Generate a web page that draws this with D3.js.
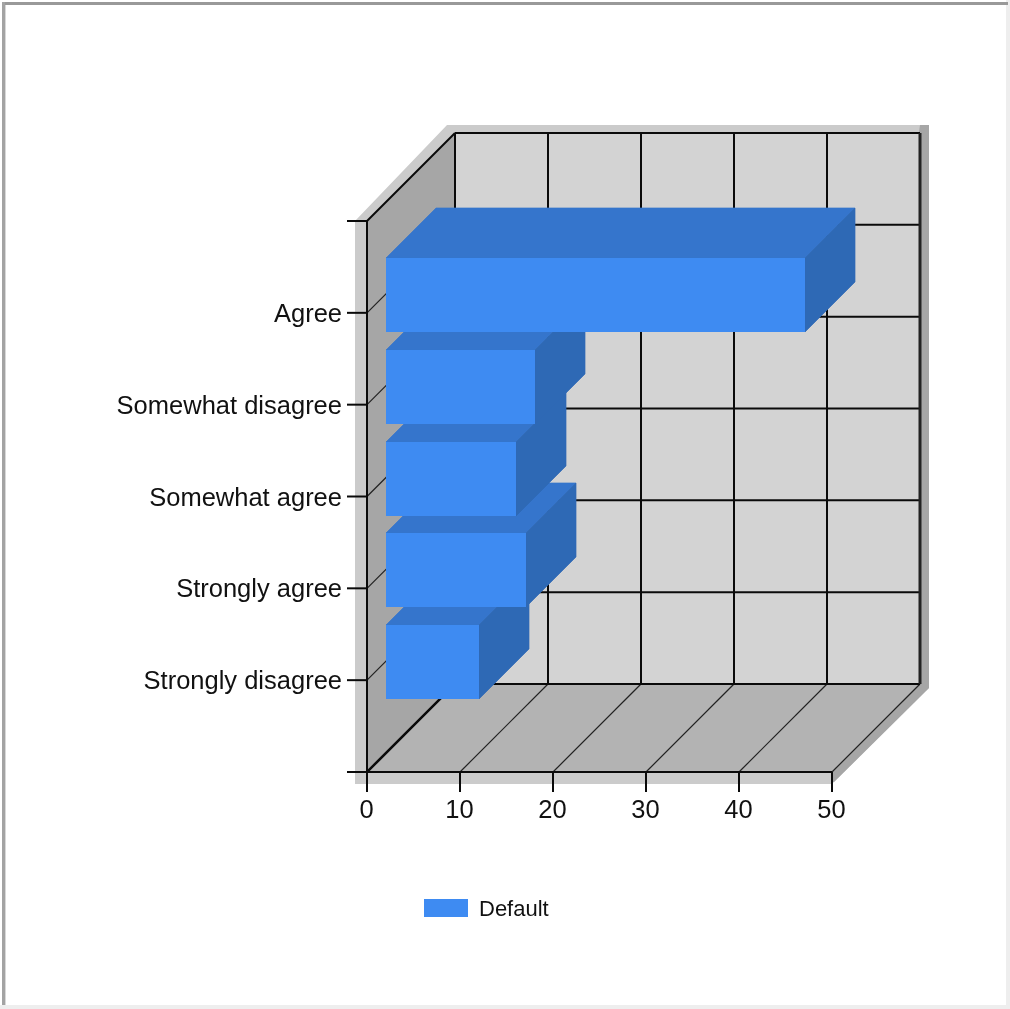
<!DOCTYPE html>
<html><head><meta charset="utf-8">
<script src="https://cdnjs.cloudflare.com/ajax/libs/d3/7.8.5/d3.min.js"></script>
<style>html,body{margin:0;padding:0;background:#fff;overflow:hidden}svg{display:block;filter:blur(0.7px)}text{font-family:"Liberation Sans",Arial,sans-serif;fill:#111}</style>
</head><body><svg id="c" width="1010" height="1009"></svg>
<script>
const categories = ["Agree","Somewhat disagree","Somewhat agree","Strongly agree","Strongly disagree"];
const values = [45,16,14,15,10];
const xTicks = [0,10,20,30,40,50];
const seriesName = "Default";

const W=1010,H=1009, svg=d3.select("#c");
const x=d3.scaleLinear().domain([0,50]).range([367,832]);
const yRange=[221,772];
const y=d3.scalePoint().domain(categories).range(yRange).padding(1);
const DX=88, DY=-88;           // wall depth
const zNear=19, zNearY=18, zDepth=50; // bar depth offsets
const barH=74;
const poly=(pts,fill,seal)=>svg.append("path").attr("d",d3.line()(pts)+"Z").attr("fill",fill).attr("stroke",seal?fill:"none").attr("stroke-width",seal?0.7:0);
const line=(a,b,w,c)=>svg.append("line").attr("x1",a[0]).attr("y1",a[1]).attr("x2",b[0]).attr("y2",b[1]).attr("stroke",c||"#0a0a0a").attr("stroke-width",w);

// frame
svg.append("rect").attr("width",W).attr("height",H).attr("fill","#fff");
svg.append("rect").attr("x",1006).attr("y",0).attr("width",4).attr("height",H).attr("fill","#eeeeee");
svg.append("rect").attr("x",0).attr("y",1005).attr("width",W).attr("height",4).attr("fill","#eeeeee");
svg.append("rect").attr("x",2).attr("y",2).attr("width",1006).attr("height",3).attr("fill","#999999");
svg.append("rect").attr("x",2).attr("y",2).attr("width",3).attr("height",1003).attr("fill","#a3a3a3");
svg.append("rect").attr("x",5).attr("y",5).attr("width",1).attr("height",1000).attr("fill","#d8d8d8");

const x0=x(0),x1=x(50),yT=yRange[0],yB=yRange[1];
// shadows
poly([[355,221],[x0+DX-8,125],[929,125],[929,688],[834,782],[832,784],[355,784]],"#cbcbcb");
poly([[920,125],[929,125],[929,688],[834,782],[832,782],[832,771]],"#a6a6a6");
// walls
poly([[x0+DX,yT+DY],[x1+DX,yT+DY],[x1+DX,yB+DY],[x0+DX,yB+DY]],"#d3d3d3");
poly([[x0,yT],[x0+DX,yT+DY],[x0+DX,yB+DY],[x0,yB]],"#a6a6a6");
poly([[x0,yB],[x0+DX,yB+DY],[x1+DX,yB+DY],[x1,yB]],"#b3b3b3");

// gridlines
xTicks.forEach(t=>{
  const px=x(t);
  line([px+DX,yT+DY],[px+DX,yB+DY],2);
  line([px,yB],[px+DX,yB+DY],t===0?2.4:1.2,t===0?null:"#222");
  line([px,yB],[px,yB+20],2);
});
const yLines=[yRange[0],...categories.map(c=>y(c)),yRange[1]];
yLines.forEach(v=>{
  line([x0+DX,v+DY],[x1+DX,v+DY],2);
  const edge=(v===yT||v===yB);
  line([x0,v],[x0+DX,v+DY],edge?2:1.2,edge?null:"#222");
  line([347,v],[x0,v],2);
});
line([x0,yT],[x0,yB],2);
line([x0,yB],[x1,yB],2);
line([x1+DX,yT+DY],[x1+DX,yB+DY],3,"#222");

// bars, drawn bottom up so the upper bars sit in front
const w=d3.scaleLinear().domain([0,50]).range([0,x1-x0]);
const order=d3.range(categories.length).reverse();
order.forEach(i=>{
  const L=x0+zNear, R=Math.round(L+w(values[i]));
  const T=Math.round(y(categories[i])-zNearY-barH/2), B=T+barH;
  const d=zDepth;
  poly([[L,T],[L+d,T-d],[R+d,T-d],[R,T]],"#3575cc",true);
  poly([[R,T],[R+d,T-d],[R+d,B-d],[R,B]],"#2e69b5",true);
  poly([[L,T],[R,T],[R,B],[L,B]],"#3e8bf2",false);
});

// labels
categories.forEach(c=>svg.append("text").attr("x",342).attr("y",y(c)+9).attr("text-anchor","end").attr("font-size",25.5).text(c));
xTicks.forEach(t=>svg.append("text").attr("x",x(t)-0.5).attr("y",818).attr("text-anchor","middle").attr("font-size",25.5).text(t));

// legend
svg.append("rect").attr("x",424).attr("y",899).attr("width",44).attr("height",18).attr("fill","#3e8bf2");
svg.append("text").attr("x",479).attr("y",916).attr("font-size",22).text(seriesName);
</script></body></html>
